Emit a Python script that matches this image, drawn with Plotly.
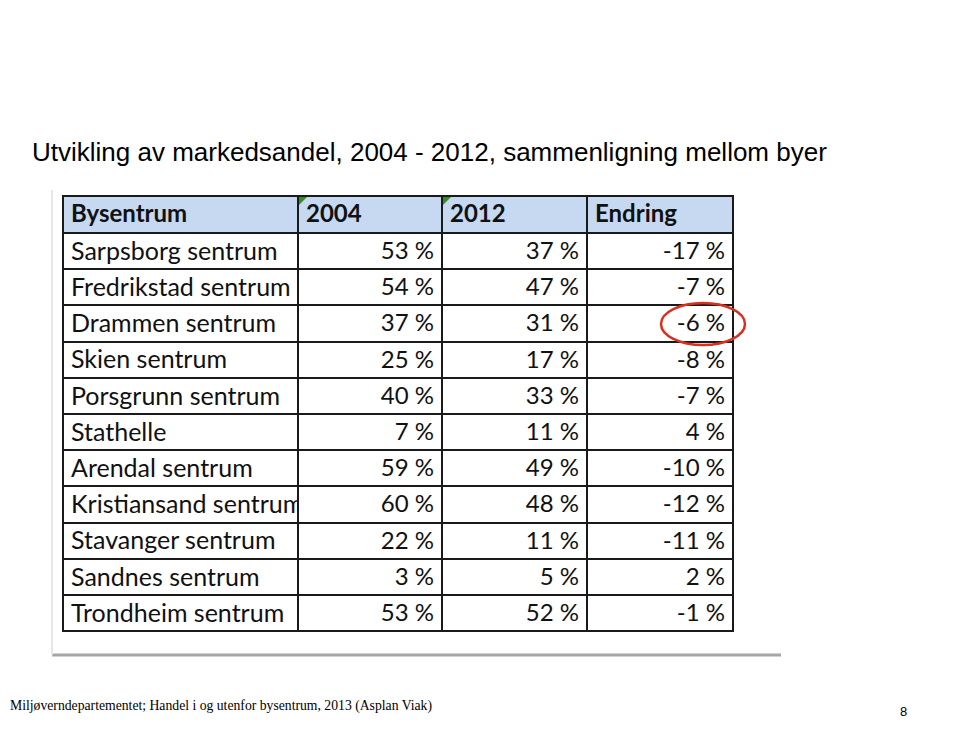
import plotly.graph_objects as go

# data
byer = ["Sarpsborg sentrum", "Fredrikstad sentrum", "Drammen sentrum", "Skien sentrum",
        "Porsgrunn sentrum", "Stathelle", "Arendal sentrum", "Kristiansand sentrum",
        "Stavanger sentrum", "Sandnes sentrum", "Trondheim sentrum"]
andel_2004 = [53, 54, 37, 25, 40, 7, 59, 60, 22, 3, 53]
andel_2012 = [37, 47, 31, 17, 33, 11, 49, 48, 11, 5, 52]
endring = [-17, -7, -6, -8, -7, 4, -10, -12, -11, 2, -1]
kolonner = ["Bysentrum", "2004", "2012", "Endring"]

W, H = 960, 734
OFF = 8  # page body margin


def px_x(v):
    return (v - OFF) / W


def px_y(v):
    return 1 - (v - OFF) / H


def pct(vals):
    return [f"{v} %" for v in vals]


# no line wrapping inside the first column
byer_nb = [b.replace(" ", "\u00a0") for b in byer]

fig = go.Figure(go.Table(
    domain=dict(x=[px_x(63), px_x(733)], y=[px_y(640), px_y(196)]),
    columnwidth=[235, 144, 145, 146],
    header=dict(
        values=kolonner,
        fill_color="#c6d9f1",
        line=dict(color="#1a1a1a", width=2),
        align="left",
        font=dict(family="Lato", size=24, color="#111", weight="bold"),
        height=37,
    ),
    cells=dict(
        values=[byer_nb, pct(andel_2004), pct(andel_2012), pct(endring)],
        fill_color="white",
        line=dict(color="#1a1a1a", width=2),
        align=["left", "right", "right", "right"],
        font=dict(family="Lato", size=[25, 24, 24, 24], color="#111"),
        height=36.2,
    ),
))

# title, source and page number
fig.add_annotation(text="Utvikling av markedsandel, 2004 - 2012, sammenligning mellom byer",
                   x=px_x(30), y=px_y(152), xref="paper", yref="paper",
                   xanchor="left", yanchor="middle", showarrow=False,
                   font=dict(family="Liberation Sans", size=26, color="black"))
fig.add_annotation(text="Miljøverndepartementet; Handel i og utenfor bysentrum, 2013 (Asplan Viak)",
                   x=0, y=px_y(706), xref="paper", yref="paper",
                   xanchor="left", yanchor="middle", showarrow=False,
                   font=dict(family="Liberation Serif", size=13.7, color="black"))
fig.add_annotation(text="8", x=px_x(903), y=px_y(711), xref="paper", yref="paper",
                   xanchor="center", yanchor="middle", showarrow=False,
                   font=dict(family="Liberation Sans", size=13, color="black"))

shapes = [
    # picture frame shadow
    dict(type="line", x0=px_x(52), x1=px_x(781), y0=px_y(655), y1=px_y(655),
         line=dict(color="#a6a6a6", width=3)),
    dict(type="line", x0=px_x(52), x1=px_x(52), y0=px_y(190), y1=px_y(655),
         line=dict(color="#e6e6e6", width=2)),
    # right slide edge
    dict(type="line", x0=px_x(957), x1=px_x(957), y0=px_y(0), y1=px_y(105),
         line=dict(color="#8c7b55", width=2)),
    dict(type="line", x0=px_x(957), x1=px_x(957), y0=px_y(105), y1=px_y(742),
         line=dict(color="#3c3c3c", width=2)),
    # red ring around Drammen
    dict(type="circle", x0=px_x(661), x1=px_x(745), y0=px_y(345), y1=px_y(303),
         line=dict(color="#d9301e", width=2.5)),
    # green comment markers
    dict(type="path", path=f"M {px_x(299)},{px_y(197)} L {px_x(307)},{px_y(197)} L {px_x(299)},{px_y(205)} Z",
         fillcolor="#3a8a2a", line=dict(width=0)),
    dict(type="path", path=f"M {px_x(443)},{px_y(197)} L {px_x(451)},{px_y(197)} L {px_x(443)},{px_y(205)} Z",
         fillcolor="#3a8a2a", line=dict(width=0)),
]
for s in shapes:
    s.update(xref="paper", yref="paper")
    fig.add_shape(**s)

fig.update_layout(width=W, height=H, margin=dict(l=0, r=0, t=0, b=0),
                  paper_bgcolor="white", plot_bgcolor="white")

fig.write_html("out.html")
